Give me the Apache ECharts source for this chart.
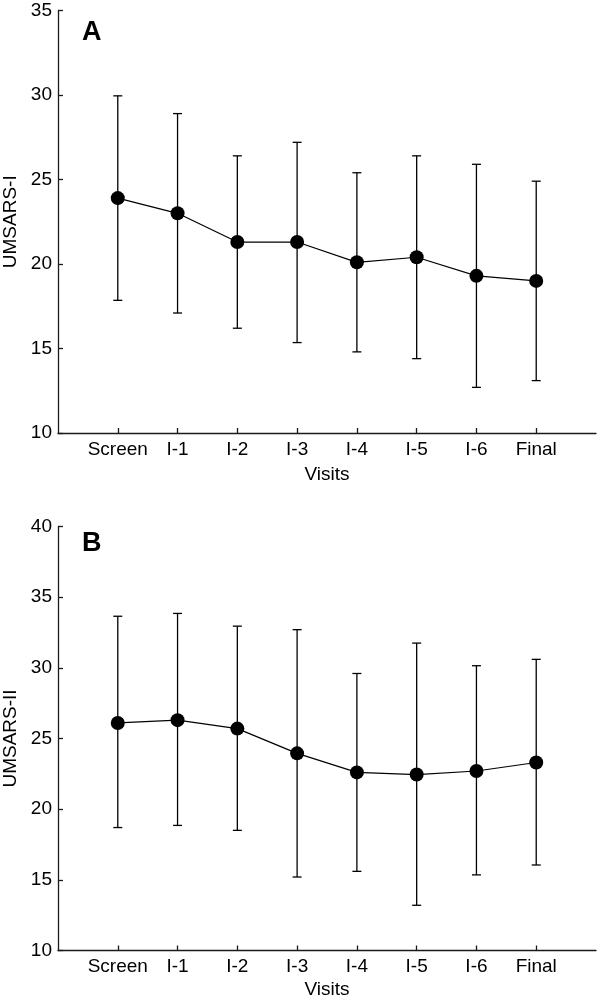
<!DOCTYPE html>
<html>
<head>
<meta charset="utf-8">
<script src="https://cdn.jsdelivr.net/npm/echarts@6/dist/echarts.min.js"></script>
<style>html,body{margin:0;padding:0;background:#fff}#c{width:600px;height:1001px}</style>
</head>
<body>
<div id="c"></div>
<script>
const categories = ['Screen', 'I-1', 'I-2', 'I-3', 'I-4', 'I-5', 'I-6', 'Final'];

// Panel A: UMSARS-I
const meanA  = [23.9, 23.0, 21.3, 21.3, 20.1, 20.4, 19.3, 19.0];
const upperA = [29.95, 28.9, 26.4, 27.2, 25.4, 26.4, 25.9, 24.9];
const lowerA = [17.85, 17.1, 16.2, 15.35, 14.8, 14.4, 12.7, 13.1];

// Panel B: UMSARS-II
const meanB  = [26.1, 26.3, 25.7, 23.95, 22.6, 22.45, 22.7, 23.3];
const upperB = [33.65, 33.85, 32.95, 32.7, 29.6, 31.75, 30.15, 30.6];
const lowerB = [18.7, 18.85, 18.5, 15.2, 15.6, 13.2, 15.35, 16.05];

const yTicksA = [10, 35, 5];
const yTicksB = [10, 40, 5];

const FONT = '"Liberation Sans", Arial, Helvetica, sans-serif';
const AX = '#1a1a1a';
const FS = 19;

function pts(vals) { return vals.map((v, i) => [i + 1, v]); }
function bars(lo, hi) { return lo.map((l, i) => [i + 1, l, hi[i]]); }

function errRender(params, api) {
  const x = api.value(0);
  const lo = api.coord([x, api.value(1)]);
  const hi = api.coord([x, api.value(2)]);
  const w = 4.5;
  const st = { stroke: '#000', lineWidth: 1.3 };
  return {
    type: 'group',
    children: [
      { type: 'line', shape: { x1: lo[0], y1: lo[1], x2: hi[0], y2: hi[1] }, style: st },
      { type: 'line', shape: { x1: lo[0] - w, y1: lo[1], x2: lo[0] + w, y2: lo[1] }, style: st },
      { type: 'line', shape: { x1: hi[0] - w, y1: hi[1], x2: hi[0] + w, y2: hi[1] }, style: st }
    ]
  };
}

function xAxis(gi, gap) {
  return {
    type: 'value', gridIndex: gi, min: 0, max: categories.length + 1, interval: 1,
    name: 'Visits', nameLocation: 'middle', nameGap: gap,
    nameTextStyle: { fontFamily: FONT, fontSize: FS, color: '#000' },
    axisLine: { show: true, lineStyle: { color: AX, width: 1.3 } },
    axisTick: { show: true, inside: true, length: 5, lineStyle: { color: AX, width: 1.3 },
      customValues: categories.map((c, i) => i + 1) },
    axisLabel: { show: true, margin: 7, fontFamily: FONT, fontSize: FS, color: '#000',
      customValues: categories.map((c, i) => i + 1),
      formatter: v => categories[Math.round(v) - 1] || '' },
    splitLine: { show: false }
  };
}
function yAxis(gi, t, name) {
  return {
    type: 'value', gridIndex: gi, min: t[0], max: t[1], interval: t[2],
    name: name, nameLocation: 'middle', nameGap: 36,
    nameTextStyle: { fontFamily: FONT, fontSize: FS, color: '#000' },
    axisLine: { show: true, lineStyle: { color: AX, width: 1.3 } },
    axisTick: { show: true, inside: true, length: 5, lineStyle: { color: AX, width: 1.3 } },
    axisLabel: { show: true, margin: 6, fontFamily: FONT, fontSize: FS, color: '#000' },
    splitLine: { show: false }
  };
}

const chart = echarts.init(document.getElementById('c'), null, { renderer: 'canvas' });
chart.setOption({
  animation: false,
  backgroundColor: '#fff',
  title: [
    { text: 'A', left: 77, top: 14, textStyle: { fontFamily: FONT, fontSize: 27, fontWeight: 'bold', color: '#000' } },
    { text: 'B', left: 77, top: 525, textStyle: { fontFamily: FONT, fontSize: 27, fontWeight: 'bold', color: '#000' } }
  ],
  grid: [
    { left: 58, right: 4, top: 10.5, height: 422.5, outerBoundsMode: 'none', containLabel: false },
    { left: 58, right: 4, top: 526.5, height: 424, outerBoundsMode: 'none', containLabel: false }
  ],
  xAxis: [xAxis(0, 32), xAxis(1, 30)],
  yAxis: [yAxis(0, yTicksA, 'UMSARS-I'), yAxis(1, yTicksB, 'UMSARS-II')],
  series: [
    { type: 'custom', xAxisIndex: 0, yAxisIndex: 0, renderItem: errRender, data: bars(lowerA, upperA), z: 2 },
    { type: 'line', xAxisIndex: 0, yAxisIndex: 0, data: pts(meanA), symbol: 'circle', symbolSize: 14,
      lineStyle: { color: '#000', width: 1.2 }, itemStyle: { color: '#000' }, z: 3 },
    { type: 'custom', xAxisIndex: 1, yAxisIndex: 1, renderItem: errRender, data: bars(lowerB, upperB), z: 2 },
    { type: 'line', xAxisIndex: 1, yAxisIndex: 1, data: pts(meanB), symbol: 'circle', symbolSize: 14,
      lineStyle: { color: '#000', width: 1.2 }, itemStyle: { color: '#000' }, z: 3 }
  ]
});
</script>
</body>
</html>
